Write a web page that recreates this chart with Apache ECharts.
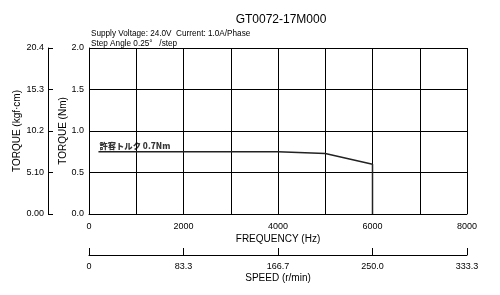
<!DOCTYPE html>
<html><head><meta charset="utf-8">
<script src="https://cdn.jsdelivr.net/npm/echarts@6/dist/echarts.min.js"></script>
<style>html,body{margin:0;padding:0;background:#fff}#c{width:500px;height:295px}</style>
</head><body><div id="c"></div>
<script>
// Data
const freqHz = [200, 4000, 5000, 6000, 6000];
const torqueNm = [0.75, 0.75, 0.73, 0.60, 0.0];
const kgfTickLabels = ['0.00', '5.10', '10.2', '15.3', '20.4'];
const nmTickLabels = ['0.0', '0.5', '1.0', '1.5', '2.0'];
const freqTickLabels = ['0', '2000', '4000', '6000', '8000'];
const speedTickLabels = ['0', '83.3', '166.7', '250.0', '333.3'];
const titleText = 'GT0072-17M000';
const subText = 'Supply Voltage: 24.0V  Current: 1.0A/Phase\nStep Angle 0.25°   /step';
const curveLabel = '許容トルク 0.7Nm';

const font = 'Liberation Sans, Arial, sans-serif';
const chart = echarts.init(document.getElementById('c'), null, {renderer: 'canvas'});
const lbl = {color: '#000', fontFamily: font, fontSize: 9};
const nameStyle = {color: '#000', fontFamily: font, fontSize: 10};
chart.setOption({
  animation: false,
  backgroundColor: '#fff',
  title: [
    {text: titleText, left: 276, top: 9, textAlign: 'center',
     textStyle: {fontFamily: font, fontSize: 12, fontWeight: 'normal', color: '#000'}},
    {text: subText, left: 86, top: 24,
     textStyle: {fontFamily: font, fontSize: 8.2, fontWeight: 'normal', color: '#000', lineHeight: 9.5}}
  ],
  grid: {left: 89, right: 33, top: 48, height: 166, outerBoundsMode: 'none', containLabel: false},
  xAxis: [
    {type: 'value', min: 0, max: 8000, interval: 1000, position: 'bottom',
     name: 'FREQUENCY (Hz)', nameLocation: 'middle', nameGap: 20, nameMoveOverlap: false,
     nameTextStyle: nameStyle,
     axisLine: {show: true, lineStyle: {color: '#000', width: 1}},
     axisTick: {show: false},
     axisLabel: Object.assign({}, lbl, {margin: 8,
       formatter: v => (v % 2000 === 0 ? freqTickLabels[v / 2000] : '')}),
     splitLine: {show: true, lineStyle: {color: '#000', width: 1}}},
    {type: 'value', min: 0, max: 4, interval: 1, position: 'bottom', offset: 41,
     name: 'SPEED (r/min)', nameLocation: 'middle', nameGap: 18, nameMoveOverlap: false,
     nameTextStyle: nameStyle,
     axisLine: {show: true, onZero: false, lineStyle: {color: '#000', width: 1}},
     axisTick: {show: true, inside: true, length: 7, lineStyle: {color: '#000'}},
     axisLabel: Object.assign({}, lbl, {margin: 7, formatter: v => speedTickLabels[v]}),
     splitLine: {show: false}}
  ],
  yAxis: [
    {type: 'value', min: 0, max: 2, interval: 0.5, position: 'left',
     name: 'TORQUE (Nm)', nameLocation: 'middle', nameGap: 21, nameRotate: 90, nameMoveOverlap: false,
     nameTextStyle: nameStyle,
     axisLine: {show: true, lineStyle: {color: '#000', width: 1}},
     axisTick: {show: false},
     axisLabel: Object.assign({}, lbl, {margin: 5, formatter: v => nmTickLabels[Math.round(v * 2)]}),
     splitLine: {show: true, lineStyle: {color: '#000', width: 1}}},
    {type: 'value', min: 0, max: 20.4, interval: 5.1, position: 'left', offset: 41,
     name: 'TORQUE (kgf·cm)', nameLocation: 'middle', nameGap: 26, nameRotate: 90, nameMoveOverlap: false,
     nameTextStyle: nameStyle,
     axisLine: {show: true, onZero: false, lineStyle: {color: '#000', width: 1}},
     axisTick: {show: true, inside: true, length: 5, lineStyle: {color: '#000'}},
     axisLabel: Object.assign({}, lbl, {margin: 4, formatter: v => kgfTickLabels[Math.round(v / 5.1)]}),
     splitLine: {show: false}}
  ],
  series: [
    {type: 'line', xAxisIndex: 0, yAxisIndex: 0,
     symbol: 'none', lineStyle: {color: '#222', width: 1.5},
     data: freqHz.map((f, i) => [f, torqueNm[i]])},
    {type: 'scatter', xAxisIndex: 0, yAxisIndex: 0, symbolSize: 1,
     itemStyle: {color: 'rgba(0,0,0,0)'},
     label: {show: true, formatter: curveLabel, position: 'top', distance: 1, align: 'left',
       offset: [1, 0], color: '#000', fontFamily: 'Noto Sans CJK JP, sans-serif', fontSize: 8.3, fontWeight: 900},
     data: [[freqHz[0], torqueNm[0]]]}
  ]
});
</script></body></html>
